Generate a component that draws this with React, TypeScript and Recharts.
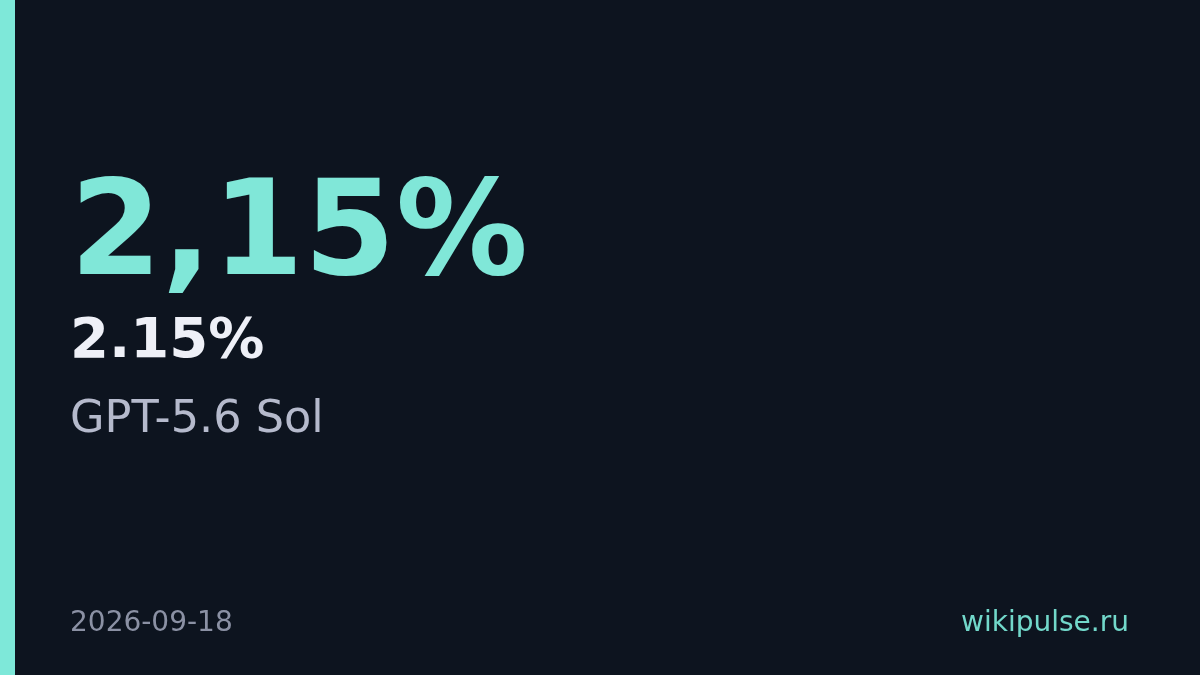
import React from "react";
import { Surface, Rectangle, Text } from "recharts";

// Карточка с одним показателем
const headline = ["2,15%"];
const valueLabels = ["2.15%"];
const modelNames = ["GPT-5.6 Sol"];
const dates = ["2026-09-18"];
const sources = ["wikipulse.ru"];

const W = 1200;
const H = 675;
const FONT = "'DejaVu Sans', sans-serif";

export default function App() {
  return (
    <div style={{ position: "fixed", left: 0, top: 0, width: W, height: H }}>
      <Surface width={W} height={H}>
        <Rectangle x={0} y={0} width={W} height={H} fill="#0d141f" />
        <Rectangle x={0} y={0} width={15} height={H} fill="#7ee8d9" />
        <Text
          x={70}
          y={274}
          verticalAnchor="end"
          fill="#80e7d8"
          style={{ fontFamily: FONT, fontWeight: 700, fontSize: 132 }}
        >
          {headline[0]}
        </Text>
        <Text
          x={70}
          y={357}
          verticalAnchor="end"
          fill="#eef0f7"
          style={{ fontFamily: FONT, fontWeight: 700, fontSize: 56 }}
        >
          {valueLabels[0]}
        </Text>
        <Text
          x={70}
          y={432}
          verticalAnchor="end"
          fill="#b5bacc"
          style={{ fontFamily: FONT, fontWeight: 400, fontSize: 44.6 }}
        >
          {modelNames[0]}
        </Text>
        <Text
          x={70}
          y={631}
          verticalAnchor="end"
          fill="#8b91a4"
          style={{ fontFamily: FONT, fontWeight: 400, fontSize: 28 }}
        >
          {dates[0]}
        </Text>
        <Text
          x={1129}
          y={631}
          verticalAnchor="end"
          textAnchor="end"
          fill="#72d8ca"
          style={{ fontFamily: FONT, fontWeight: 400, fontSize: 28 }}
        >
          {sources[0]}
        </Text>
      </Surface>
    </div>
  );
}
